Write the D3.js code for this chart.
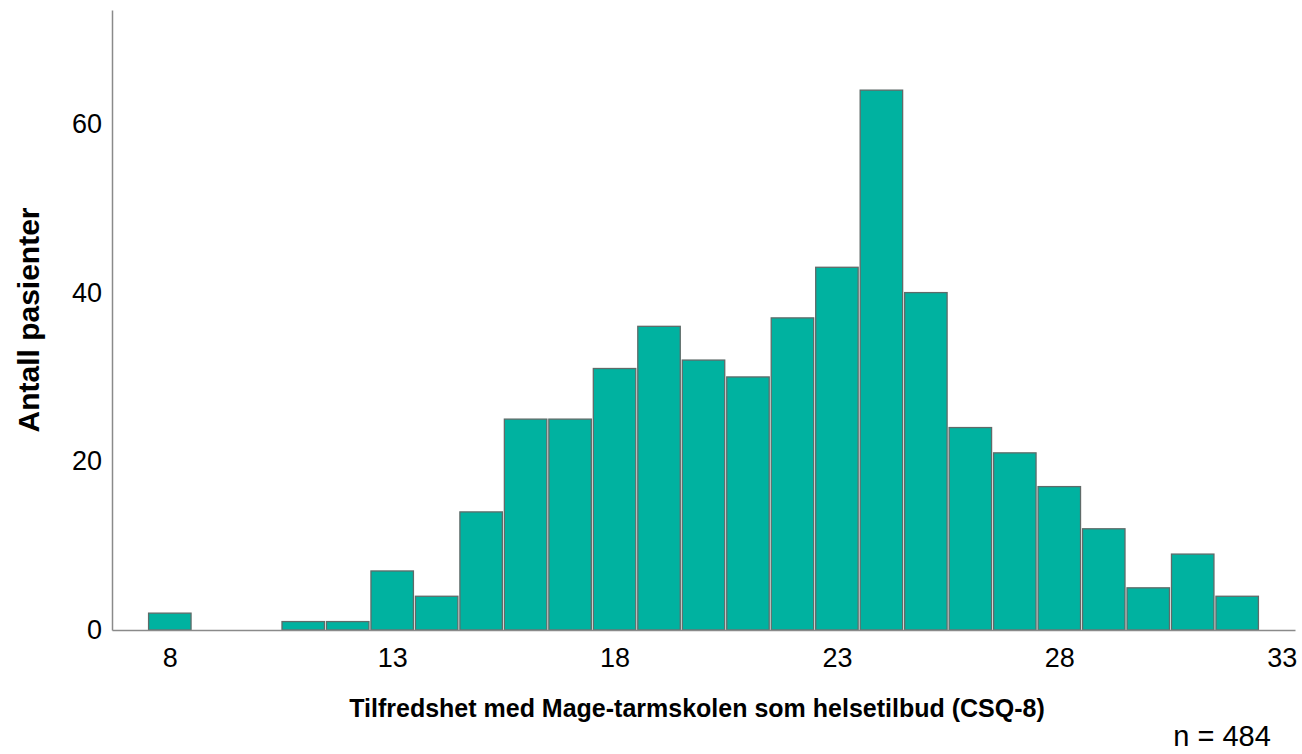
<!DOCTYPE html>
<html>
<head>
<meta charset="utf-8">
<script src="https://cdn.jsdelivr.net/npm/d3@7"></script>
<style>
    body { margin: 0; background: #fff; }
    text { font-family: "Liberation Sans", Arial, sans-serif; fill: #000; }
</style>
</head>
<body>
<svg id="chart" width="1302" height="754"></svg>
<script>
// histogram data: score -> number of patients
const scores = [8, 11, 12, 13, 14, 15, 16, 17, 18, 19, 20, 21, 22, 23, 24, 25, 26, 27, 28, 29, 30, 31, 32];
const counts = [2, 1, 1, 7, 4, 14, 25, 25, 31, 36, 32, 30, 37, 43, 64, 40, 24, 21, 17, 12, 5, 9, 4];
const xTicks = [8, 13, 18, 23, 28, 33];
const yTicks = [0, 20, 40, 60];

const svg = d3.select("#chart");
const margin = { top: 10, right: 7, bottom: 124, left: 112 };
const width = 1302, height = 754;

// scales
const x = d3.scaleLinear()
    .domain([6.7, 33.3])
    .range([margin.left, width - margin.right]);
const y = d3.scaleLinear()
    .domain([0, 73.5])
    .range([height - margin.bottom, margin.top]);

const data = scores.map((s, i) => ({ score: s, count: counts[i] }));

// bars
svg.append("g")
    .selectAll("rect")
    .data(data)
    .join("rect")
    .attr("x", d => x(d.score - 0.5) + 1)
    .attr("width", d => x(d.score + 0.5) - x(d.score - 0.5) - 2)
    .attr("y", d => y(d.count))
    .attr("height", d => y(0) - y(d.count))
    .attr("fill", "#00b2a0")
    .attr("stroke", "#5f6b69")
    .attr("stroke-width", 1.3);

// x axis
const xAxis = svg.append("g")
    .attr("transform", `translate(0, ${y(0)})`)
    .call(d3.axisBottom(x).tickValues(xTicks).tickSize(0).tickPadding(18));
xAxis.select(".domain").attr("stroke", "#8a8a8a").attr("stroke-width", 1.5);
xAxis.selectAll("text").style("font-size", "27px").attr("fill", "#000");

// y axis
const yAxis = svg.append("g")
    .attr("transform", `translate(${margin.left}, 0)`)
    .call(d3.axisLeft(y).tickValues(yTicks).tickSize(0).tickPadding(10));
yAxis.select(".domain").attr("stroke", "#8a8a8a").attr("stroke-width", 1.5);
yAxis.selectAll("text").style("font-size", "27px").attr("fill", "#000");

// axis labels
svg.append("text")
    .attr("x", 697)
    .attr("y", 717)
    .attr("text-anchor", "middle")
    .style("font-size", "25px")
    .style("font-weight", "bold")
    .text("Tilfredshet med Mage-tarmskolen som helsetilbud (CSQ-8)");

svg.append("text")
    .attr("transform", `translate(39, 320) rotate(-90)`)
    .attr("text-anchor", "middle")
    .style("font-size", "30px")
    .style("font-weight", "bold")
    .text("Antall pasienter");

// sample size note
svg.append("text")
    .attr("x", 1222)
    .attr("y", 746)
    .attr("text-anchor", "middle")
    .style("font-size", "29px")
    .text("n = 484");
</script>
</body>
</html>
